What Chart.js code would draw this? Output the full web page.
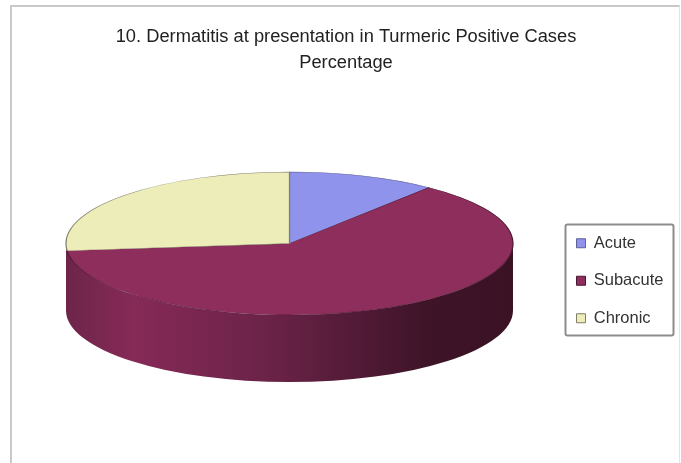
<!DOCTYPE html>
<html>
<head>
<meta charset="utf-8">
<style>
    body { margin: 0; background: #fff; }
    #frame { position: absolute; left: 10px; top: 5px; width: 670px; height: 458px; border-left: 2px solid #c9c9c9; border-top: 2px solid #c9c9c9; border-right: 1px solid #e4e4e4; box-sizing: border-box; }
    canvas { position: absolute; left: 0; top: 0; filter: blur(0.7px); }
</style>
<script src="https://cdn.jsdelivr.net/npm/chart.js@4"></script>
</head>
<body>
<div id="frame"></div>
<canvas id="chart" width="681" height="463"></canvas>
<script>
const titleLines = ['10. Dermatitis at presentation in Turmeric Positive Cases', 'Percentage'];
const categories = ['Acute', 'Subacute', 'Chronic'];
const percentages = [10.7, 62.7, 26.6];
const sliceColors = ['#8f93ec', '#8e2e5c', '#ededb9'];
const sliceBorders = ['#5f5f98', '#4c1630', '#7f7c68'];

// where the tilted pie sits on the page
const pie = { cx: 289.5, cy: 243.5, rx: 223.5, ry: 71.5, depth: 67 };
const legendBox = { x: 565.5, y: 224.5, w: 108, h: 111 };

const tiltedPie = {
    id: 'tiltedPie',
    afterLayout(chart) {
        const legend = chart.legend;
        const width = legend.width;
        legend.left = legendBox.x - 10;
        legend.right = legend.left + width;
        legend.top = legendBox.y - 10.5;
    },
    beforeDatasetsDraw(chart) {
        const ctx = chart.ctx;
        const arc = chart.getDatasetMeta(0).data[1];
        const r = arc.outerRadius;
        const scaleY = pie.ry / r;

        ctx.save();
        ctx.translate(pie.cx, pie.cy);
        ctx.scale(pie.rx / r, scaleY);
        ctx.translate(-arc.x, -arc.y);

        // side wall of the front half
        const wall = ctx.createLinearGradient(arc.x - r, 0, arc.x + r, 0);
        wall.addColorStop(0, '#6d2549');
        wall.addColorStop(0.15, '#862a57');
        wall.addColorStop(0.45, '#6b2348');
        wall.addColorStop(0.8, '#3f1429');
        wall.addColorStop(1, '#3a1224');
        const drop = pie.depth / scaleY;
        ctx.beginPath();
        ctx.arc(arc.x, arc.y, r, 0, Math.PI);
        ctx.arc(arc.x, arc.y + drop, r, Math.PI, 0, true);
        ctx.closePath();
        ctx.fillStyle = wall;
        ctx.fill();
    },
    afterDatasetsDraw(chart) {
        chart.ctx.restore();
    },
    afterDraw(chart) {
        const ctx = chart.ctx;
        ctx.save();
        ctx.strokeStyle = '#8c8c8c';
        ctx.lineWidth = 2;
        ctx.beginPath();
        ctx.roundRect(legendBox.x, legendBox.y, legendBox.w, legendBox.h, 2);
        ctx.stroke();
        ctx.restore();
    }
};

new Chart(document.getElementById('chart').getContext('2d'), {
    type: 'pie',
    plugins: [tiltedPie],
    data: {
        labels: categories,
        datasets: [{
            data: percentages,
            backgroundColor: sliceColors,
            borderColor: sliceBorders,
            borderWidth: 1,
            clip: false
        }]
    },
    options: {
        responsive: false,
        animation: false,
        devicePixelRatio: 1,
        layout: {
            padding: { left: 11 }
        },
        plugins: {
            tooltip: { enabled: false },
            title: {
                display: true,
                text: titleLines,
                color: '#222',
                padding: { top: 24, bottom: 10 },
                font: { family: '"Liberation Sans", Arial', size: 18.3, weight: 'normal', lineHeight: 1.42 }
            },
            legend: {
                position: 'right',
                align: 'start',
                labels: {
                    boxWidth: 9,
                    boxHeight: 9,
                    padding: 21,
                    color: '#333',
                    font: { family: '"Liberation Sans"', size: 16.5 }
                }
            }
        }
    }
});
</script>
</body>
</html>
